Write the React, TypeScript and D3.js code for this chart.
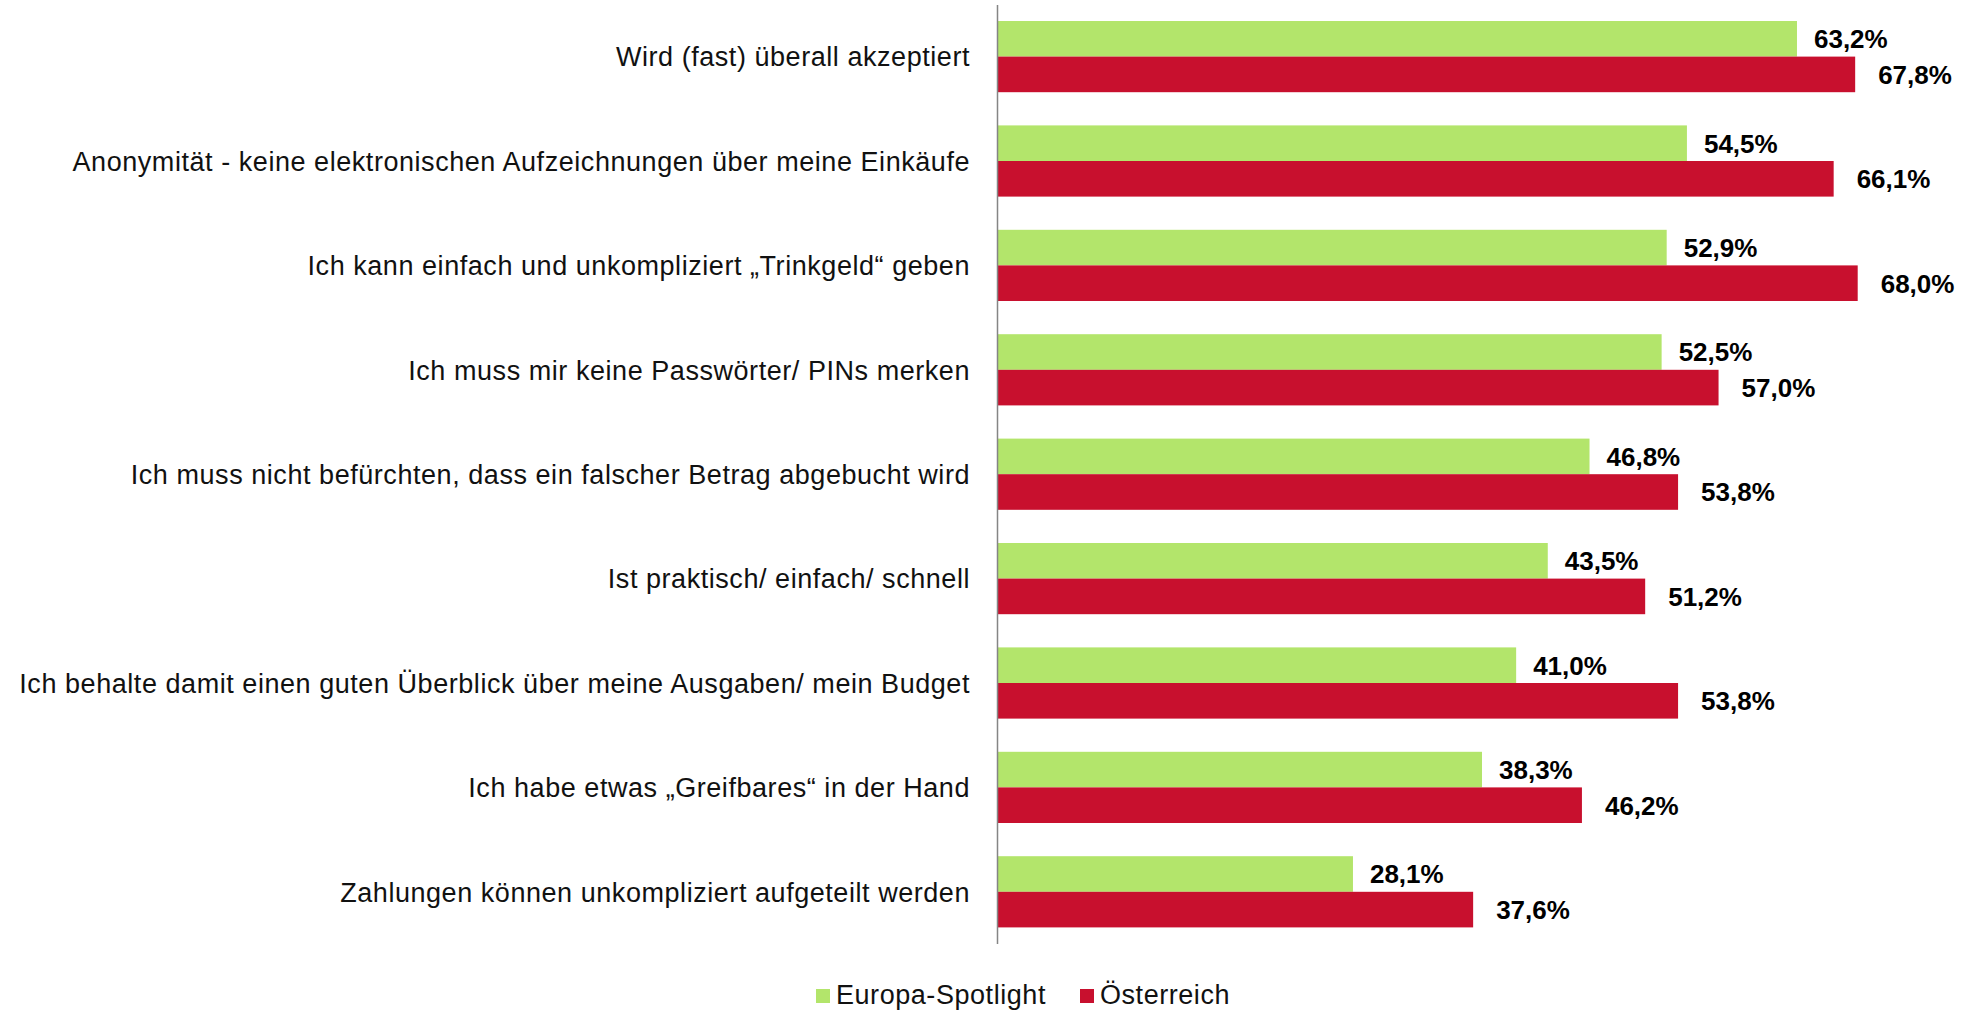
import React from "react";
import * as d3 from "d3";

const categories: string[] = [
  "Wird (fast) überall akzeptiert",
  "Anonymität - keine elektronischen Aufzeichnungen über meine Einkäufe",
  "Ich kann einfach und unkompliziert „Trinkgeld“ geben",
  "Ich muss mir keine Passwörter/ PINs merken",
  "Ich muss nicht befürchten, dass ein falscher Betrag abgebucht wird",
  "Ist praktisch/ einfach/ schnell",
  "Ich behalte damit einen guten Überblick über meine Ausgaben/ mein Budget",
  "Ich habe etwas „Greifbares“ in der Hand",
  "Zahlungen können unkompliziert aufgeteilt werden",
];
const europa: number[] = [63.2, 54.5, 52.9, 52.5, 46.8, 43.5, 41.0, 38.3, 28.1];
const oesterreich: number[] = [67.8, 66.1, 68.0, 57.0, 53.8, 51.2, 53.8, 46.2, 37.6];
const seriesNames: string[] = ["Europa-Spotlight", "Österreich"];

const W = 1967;
const H = 1010;
const GREEN = "#b3e56b";
const RED = "#c8102e";
const FONT = "'Liberation Sans', Arial, Helvetica, sans-serif";

export default function App() {
  const axisX = 997.5;
  const x = d3.scaleLinear().domain([0, 75]).range([axisX, axisX + 75 * 12.65]);
  const y = d3
    .scaleBand<string>()
    .domain(categories)
    .range([4.4, 944])
    .paddingInner(0.318)
    .paddingOuter(0.159);
  const bw = y.bandwidth() / 2;
  const fmt = (v: number) => d3.format(".1f")(v).replace(".", ",") + "%";
  const series = [
    { name: seriesNames[0], values: europa, color: GREEN, gap: 17 },
    { name: seriesNames[1], values: oesterreich, color: RED, gap: 23 },
  ];

  return (
    <svg
      width={W}
      height={H}
      style={{ position: "absolute", left: 0, top: 0, display: "block", background: "#fff" }}
      fontFamily={FONT}
    >
      {categories.map((c, i) => {
        const y0 = y(c)!;
        const cy = y0 + y.bandwidth() / 2;
        return (
          <g key={c}>
            <text
              x={970}
              y={cy + 9.7}
              textAnchor="end"
              fontSize={27}
              letterSpacing={0.55}
              fill="#111"
            >
              {c}
            </text>
            {series.map((s, si) => {
              const by = y0 + si * bw;
              const v = s.values[i];
              return (
                <g key={s.name}>
                  <rect
                    x={x(0)}
                    y={by}
                    width={x(v) - x(0)}
                    height={bw}
                    fill={s.color}
                  />
                  <text
                    x={x(v) + s.gap}
                    y={by + bw / 2 + 9.4}
                    fontSize={26}
                    fontWeight="bold"
                    fill="#000"
                  >
                    {fmt(v)}
                  </text>
                </g>
              );
            })}
          </g>
        );
      })}
      <line x1={axisX} x2={axisX} y1={5} y2={944} stroke="#858585" strokeWidth={1.5} />
      <g>
        <rect x={816} y={989} width={14} height={14} fill={GREEN} />
        <text x={836} y={1004} fontSize={27} letterSpacing={0.55} fill="#111">
          {seriesNames[0]}
        </text>
        <rect x={1080} y={989} width={14} height={14} fill={RED} />
        <text x={1100} y={1004} fontSize={27} letterSpacing={0.55} fill="#111">
          {seriesNames[1]}
        </text>
      </g>
    </svg>
  );
}
